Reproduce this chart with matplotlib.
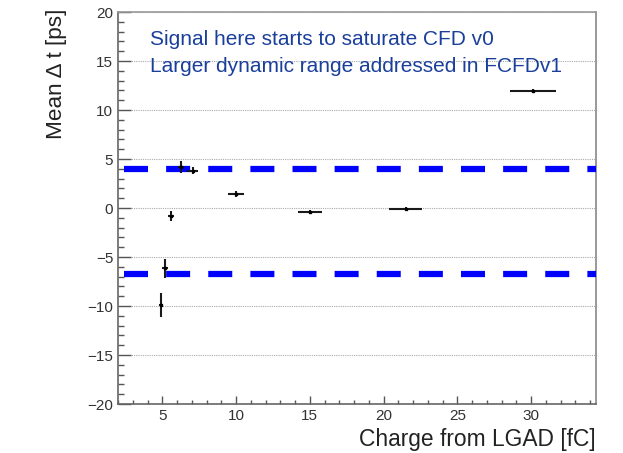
import matplotlib
matplotlib.use("Agg")
import matplotlib.pyplot as plt
from matplotlib.ticker import MultipleLocator

plt.rcParams['font.family'] = ['Liberation Sans', 'DejaVu Sans']

charge = [4.9, 5.2, 5.6, 6.3, 7.05, 10.0, 15.0, 21.5, 30.15]
mean_dt = [-9.9, -6.15, -0.8, 4.15, 3.8, 1.45, -0.45, -0.05, 11.95]
charge_err = [0.15, 0.2, 0.2, 0.2, 0.34, 0.57, 0.8, 1.13, 1.55]
dt_err = [1.2, 1.0, 0.5, 0.6, 0.35, 0.3, 0.2, 0.15, 0.2]
band_levels = [4.0, -6.7]
note_lines = ["Signal here starts to saturate CFD v0",
              "Larger dynamic range addressed in FCFDv1"]

fig = plt.figure(figsize=(6.23, 4.53), dpi=100)
ax = fig.add_axes([0.1894, 0.108, 0.9567 - 0.1894, 0.9735 - 0.108])

ax.set_xlim(2.0, 34.4)
ax.set_ylim(-20, 20)

for lvl in band_levels:
    ax.axhline(lvl, color='#0000ff', lw=4.5, dashes=(3.84, 2.9), xmin=0.013, zorder=3)

ax.errorbar(charge, mean_dt, xerr=charge_err, yerr=dt_err, fmt='s', ms=1.6,
            color='black', ecolor='#1a1a1a', elinewidth=1.5, capsize=0, zorder=4)

ax.yaxis.grid(True, which='major', color='#aaaaaa', linestyle=(0, (1, 1)), lw=0.8)
ax.set_axisbelow(True)

ax.xaxis.set_major_locator(MultipleLocator(5))
ax.xaxis.set_minor_locator(MultipleLocator(1))
ax.yaxis.set_major_locator(MultipleLocator(5))
ax.yaxis.set_minor_locator(MultipleLocator(1))
ax.tick_params(which='both', direction='in', top=False, right=False,
               colors='#555555', labelcolor='#333333', labelsize=11, width=1)
ax.tick_params(which='major', axis='y', length=9)
ax.tick_params(which='minor', axis='y', length=4.5)
ax.tick_params(which='major', axis='x', length=6)
ax.tick_params(which='minor', axis='x', length=3)
ax.yaxis.set_major_formatter(matplotlib.ticker.FuncFormatter(
    lambda v, p: f"{int(v)}".replace('-', '\u2212')))

for s in ax.spines.values():
    s.set_color('#666666')
    s.set_linewidth(1.2)
ax.spines['top'].set_color('#999999')
ax.spines['right'].set_color('#888888')

ax.text(0.067, 0.916, note_lines[0], transform=ax.transAxes, fontsize=15,
        color='#1a3f9a', va='baseline', ha='left')
ax.text(0.067, 0.847, note_lines[1], transform=ax.transAxes, fontsize=15,
        color='#1a3f9a', va='baseline', ha='left')

fig.text(0.9567, 0.0145, "Charge from LGAD [fC]", ha='right', va='baseline',
         fontsize=16.4, color='#222222')
fig.text(0.09, 0.98, "Mean \u0394 t [ps]", rotation=90, ha='center', va='top',
         fontsize=16.2, color='#222222')

fig.savefig("out.png", dpi=100)
